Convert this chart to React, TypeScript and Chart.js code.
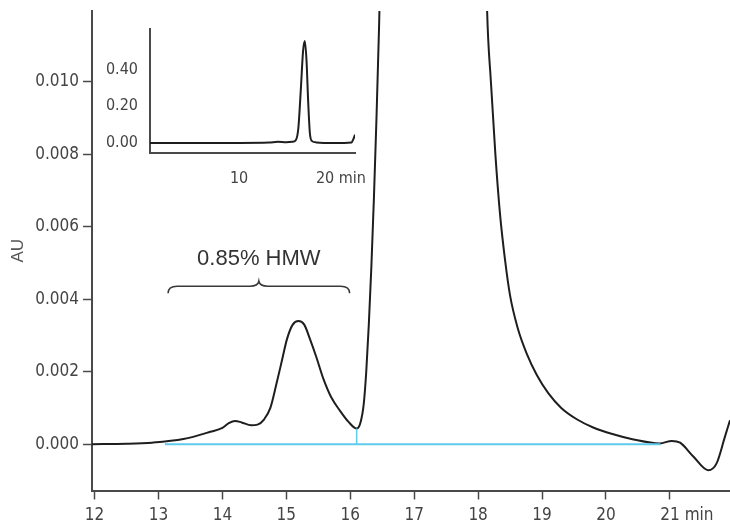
import React, { useEffect, useRef } from "react";
import { Chart, registerables } from "chart.js";

Chart.register(...registerables);

// ---- main chromatogram (zoomed) ----
const mainTimes = [
  11.96, 12.5, 12.9, 13.39, 13.81, 14.0, 14.1, 14.2, 14.3, 14.45, 14.55, 14.65, 14.75,
  14.85, 14.93, 15.01, 15.1, 15.19, 15.28, 15.37, 15.47, 15.58, 15.7, 15.84, 15.97,
  16.1, 16.16, 16.21, 16.25, 16.29, 16.33, 16.37, 16.41, 16.45, 16.49, 16.55, 16.7,
  17.3, 17.9, 18.05, 18.14, 18.2, 18.27, 18.34, 18.42, 18.5, 18.62, 18.76, 18.92,
  19.1, 19.3, 19.55, 19.8, 20.1, 20.43, 20.84, 21.03, 21.16, 21.37, 21.6, 21.73,
  21.86, 21.94,
];
const mainAbs = [
  0.0, 0.00001, 0.00004, 0.00014, 0.00034, 0.00045, 0.00058, 0.00064, 0.0006, 0.00052, 0.00054, 0.00068, 0.001,
  0.0017, 0.0023, 0.0029, 0.0033, 0.0034, 0.0033, 0.0029, 0.0024, 0.0018, 0.0013, 0.00092, 0.00062,
  0.00043, 0.0006, 0.0011, 0.002, 0.0033, 0.0049, 0.0068, 0.009, 0.0115, 0.0145, 0.02, 0.06,
  0.52, 0.08, 0.02, 0.012, 0.01, 0.008, 0.0064, 0.0051, 0.0041, 0.0032, 0.0025, 0.0019,
  0.0014, 0.001, 0.00068, 0.00046, 0.00028, 0.00013, 0.00002, 0.00009, 0.00004, -0.00035, -0.00072, -0.00053,
  0.0002, 0.00066,
];
const baselineTimes = [13.1, 20.85];
const baselineAbs = [0, 0];
const dropTimes = [16.1, 16.1];
const dropAbs = [0, 0.00043];

const mainXTicks = [12, 13, 14, 15, 16, 17, 18, 19, 20, 21];
const mainYTicks = [0, 0.002, 0.004, 0.006, 0.008, 0.01];
const mainXUnitTick = 21;

const hmwLabel = "0.85% HMW";
const braceStart = 13.15;
const braceEnd = 15.99;
const braceLevel = 0.00436;
const hmwLabelLevel = 0.00494;

// ---- inset: full chromatogram ----
const insetTimes = [
  -0.38, 5, 10, 13.5, 14.5, 15.5, 16.2, 16.6, 16.9, 17.2, 17.45, 17.65, 17.85, 18.05,
  18.25, 18.5, 19, 21, 23.1, 23.3, 23.5,
];
const insetAbs = [
  0, 0, 0, 0.002, 0.006, 0.004, 0.006, 0.015, 0.08, 0.3, 0.5, 0.555, 0.45, 0.22,
  0.05, 0.01, 0.003, 0, 0.003, 0.02, 0.045,
];
const insetXTicks = [10, 20];
const insetYTicks = [0, 0.2, 0.4];
const insetXUnitTick = 20;

const NARROW = '"Liberation Sans Narrow", "DejaVu Sans Condensed", "Roboto", sans-serif';
const REGULAR = '"Liberation Sans", Arial, sans-serif';
const AXIS = "#4a4a4a";
const TEXT = "#444";

const pts = (xs: number[], ys: number[]) => xs.map((x, i) => ({ x, y: ys[i] }));

const bracePlugin = {
  id: "hmwBrace",
  afterDatasetsDraw(chart: any) {
    const { ctx, scales } = chart;
    const xs = scales.x;
    const ys = scales.y;
    const x1 = xs.getPixelForValue(braceStart);
    const x2 = xs.getPixelForValue(braceEnd);
    const xm = (x1 + x2) / 2;
    const yb = ys.getPixelForValue(braceLevel);
    ctx.save();
    ctx.strokeStyle = "#3a3a3a";
    ctx.lineWidth = 1.6;
    ctx.beginPath();
    ctx.moveTo(x1, yb + 7);
    ctx.quadraticCurveTo(x1, yb, x1 + 9, yb);
    ctx.lineTo(xm - 9, yb);
    ctx.quadraticCurveTo(xm - 1, yb, xm, yb - 5);
    ctx.quadraticCurveTo(xm + 1, yb, xm + 9, yb);
    ctx.lineTo(x2 - 9, yb);
    ctx.quadraticCurveTo(x2, yb, x2, yb + 7);
    ctx.stroke();
    ctx.font = `22px ${REGULAR}`;
    ctx.fillStyle = "#333";
    ctx.textAlign = "center";
    ctx.textBaseline = "alphabetic";
    ctx.fillText(hmwLabel, xm, ys.getPixelForValue(hmwLabelLevel));
    ctx.restore();
  },
};

const fixX = (h: number) => (s: any) => {
  s.height = h;
  s.paddingLeft = 0;
  s.paddingRight = 0;
};
const fixY = (w: number) => (s: any) => {
  s.width = w;
  s.paddingTop = 0;
  s.paddingBottom = 0;
};

export default function App() {
  const mainRef = useRef<HTMLCanvasElement>(null);
  const insetRef = useRef<HTMLCanvasElement>(null);

  useEffect(() => {
    const main = new Chart(mainRef.current!, {
      type: "line",
      data: {
        datasets: [
          {
            data: pts(baselineTimes, baselineAbs),
            borderColor: "#5ecbec",
            borderWidth: 2,
            pointRadius: 0,
          },
          {
            data: pts(dropTimes, dropAbs),
            borderColor: "#5ecbec",
            borderWidth: 1.5,
            pointRadius: 0,
          },
          {
            data: pts(mainTimes, mainAbs),
            borderColor: "#1e1e1e",
            borderWidth: 2,
            pointRadius: 0,
            cubicInterpolationMode: "monotone",
          },
        ],
      },
      options: {
        responsive: false,
        animation: false,
        devicePixelRatio: 1,
        layout: { padding: { top: 11, right: 0, left: 0, bottom: 0 } },
        plugins: { legend: { display: false }, tooltip: { enabled: false } },
        scales: {
          x: {
            type: "linear",
            min: 11.96,
            max: 21.94,
            afterBuildTicks: (s: any) => {
              s.ticks = mainXTicks.map((v) => ({ value: v }));
            },
            afterFit: fixX(36.5),
            grid: {
              drawOnChartArea: false,
              drawTicks: true,
              tickLength: 9,
              tickColor: AXIS,
              tickWidth: 1.5,
            },
            border: { display: true, color: AXIS, width: 2 },
            ticks: {
              autoSkip: false,
              maxRotation: 0,
              padding: 6,
              color: TEXT,
              font: { family: NARROW, size: 17 },
              callback: (v: any) => (v === mainXUnitTick ? `       ${v} min` : String(v)),
            },
          },
          y: {
            type: "linear",
            min: -0.00128,
            max: 0.01196,
            afterBuildTicks: (s: any) => {
              s.ticks = mainYTicks.map((v) => ({ value: v }));
            },
            afterFit: fixY(92),
            grid: {
              drawOnChartArea: false,
              drawTicks: true,
              tickLength: 9,
              tickColor: AXIS,
              tickWidth: 1.5,
            },
            border: { display: true, color: AXIS, width: 2 },
            ticks: {
              padding: 4,
              color: TEXT,
              font: { family: NARROW, size: 17 },
              callback: (v: any) => Number(v).toFixed(3),
            },
            title: {
              display: true,
              text: "AU",
              color: "#555",
              font: { family: REGULAR, size: 17 },
              padding: { top: 8, bottom: 0 },
            },
          },
        },
      },
      plugins: [bracePlugin],
    } as any);

    const inset = new Chart(insetRef.current!, {
      type: "line",
      data: {
        datasets: [
          {
            data: pts(insetTimes, insetAbs),
            borderColor: "#1e1e1e",
            borderWidth: 2,
            pointRadius: 0,
            cubicInterpolationMode: "monotone",
          },
        ],
      },
      options: {
        responsive: false,
        animation: false,
        devicePixelRatio: 1,
        layout: { padding: { top: 10, right: 15, left: 0, bottom: 0 } },
        plugins: { legend: { display: false }, tooltip: { enabled: false } },
        scales: {
          x: {
            type: "linear",
            min: -0.38,
            max: 23.5,
            afterBuildTicks: (s: any) => {
              s.ticks = insetXTicks.map((v) => ({ value: v }));
            },
            afterFit: fixX(51.3),
            grid: { display: false, drawTicks: false },
            border: { display: true, color: AXIS, width: 2 },
            ticks: {
              autoSkip: false,
              maxRotation: 0,
              padding: 17,
              color: TEXT,
              font: { family: NARROW, size: 16 },
              callback: (v: any) => (v === insetXUnitTick ? `       ${v} min` : String(v)),
            },
          },
          y: {
            type: "linear",
            min: -0.053,
            max: 0.62,
            afterBuildTicks: (s: any) => {
              s.ticks = insetYTicks.map((v) => ({ value: v }));
            },
            afterFit: fixY(60),
            grid: { display: false, drawTicks: false },
            border: { display: true, color: AXIS, width: 2 },
            ticks: {
              padding: 12,
              color: TEXT,
              font: { family: NARROW, size: 16 },
              callback: (v: any) => Number(v).toFixed(2),
            },
          },
        },
      },
    } as any);

    return () => {
      main.destroy();
      inset.destroy();
    };
  }, []);

  return (
    <div style={{ position: "absolute", left: 0, top: 0, width: 730, height: 527, background: "#fff" }}>
      <canvas ref={mainRef} width={730} height={527} style={{ position: "absolute", left: 0, top: 0 }} />
      <canvas ref={insetRef} width={280} height={185} style={{ position: "absolute", left: 90, top: 19 }} />
    </div>
  );
}
